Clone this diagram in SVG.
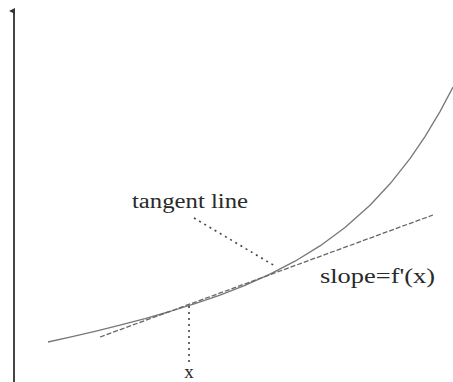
<svg xmlns="http://www.w3.org/2000/svg" width="453" height="382" viewBox="0 0 453 382">
<style>
.lbl{font-family:"Liberation Serif","DejaVu Serif",serif;fill:#2a2a2a}
.dot{stroke:#444;stroke-width:1.6;fill:none;stroke-dasharray:2 4}
</style>
<defs>
<marker id="ah" markerWidth="6" markerHeight="6" refX="3" refY="5" orient="auto" markerUnits="userSpaceOnUse">
<path d="M0,6 L3,0 L6,6 Z" fill="#333"/>
</marker>
</defs>
<rect width="453" height="382" fill="#fff"/>
<g id="axis">
<line x1="14" y1="382" x2="14" y2="11" stroke="#444" stroke-width="2" marker-end="url(#ah)"/>
</g>
<g id="curve">
<polyline points="48,342 70,337.1 95,331.3 120,325.1 145,318.6 170,311.5 195,303.7 220,295.1 245,285.4 270,274.2 295,261.2 320,245.9 345,227.5 370,205.3 390,183.8 410,158.7 425,136.7 440,111.6 453,87" fill="none" stroke="#777" stroke-width="1.3" stroke-linejoin="round"/>
</g>
<g id="tangent">
<line x1="100" y1="337" x2="433" y2="215" stroke="#666" stroke-width="1.3" stroke-dasharray="5 2"/>
</g>
<g id="connectors">
<line class="dot" x1="194" y1="218" x2="275" y2="266"/>
<line class="dot" x1="189" y1="306" x2="189" y2="364"/>
</g>
<g id="label-tangent">
<text class="lbl" x="132" y="208" font-size="20" textLength="116" lengthAdjust="spacingAndGlyphs">tangent line</text>
</g>
<g id="label-slope">
<text class="lbl" x="320" y="283" font-size="20" textLength="115" lengthAdjust="spacingAndGlyphs">slope=f'(x)</text>
</g>
<g id="label-x">
<text class="lbl" x="189" y="378" font-size="19" text-anchor="middle">x</text>
</g>
</svg>
